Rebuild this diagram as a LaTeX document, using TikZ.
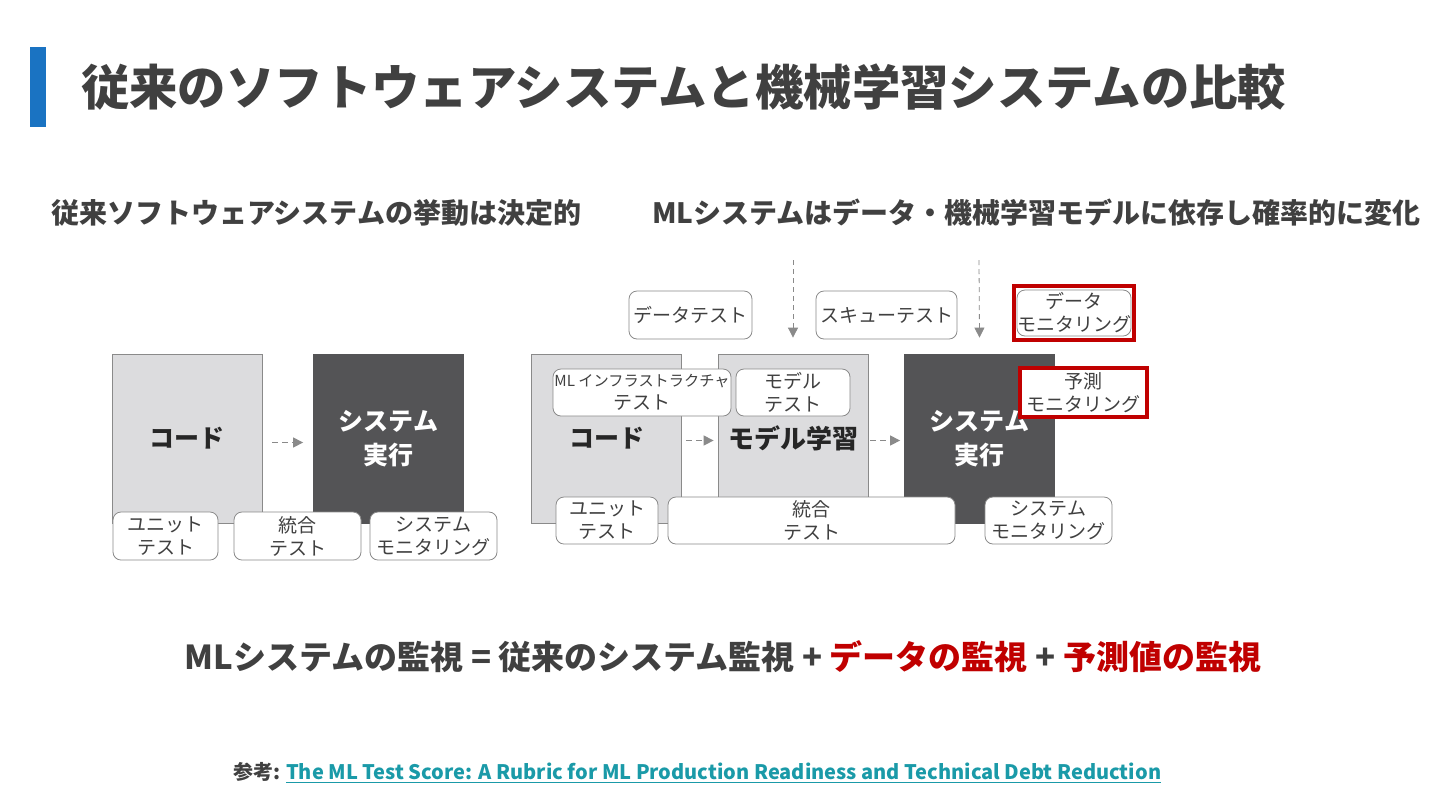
\documentclass[tikz,border=0pt]{standalone}
\usepackage{fontspec}
\setmainfont{Noto Sans CJK JP}
\usepackage{tikz}
\usetikzlibrary{arrows.meta}
\definecolor{barblue}{HTML}{1A73C2}
\definecolor{titlegray}{HTML}{404040}
\definecolor{boxgray}{HTML}{DCDCDE}
\definecolor{sysgray}{HTML}{545456}
\definecolor{edgegray}{HTML}{8A8A8A}
\definecolor{alertred}{HTML}{C00000}
\definecolor{linkteal}{HTML}{1A9AA8}
\tikzset{
  codebox/.style={draw=edgegray, fill=boxgray, text=black!85, font=\fontsize{12.5}{17}\selectfont\bfseries,
    minimum width=75pt, minimum height=84.5pt, align=center},
  sysbox/.style={codebox, draw=sysgray, fill=sysgray, text=white},
  tag/.style={draw=edgegray, fill=white, rounded corners=4pt, text=titlegray, align=center,
    inner sep=0pt, font=\fontsize{9.5}{11.5}\selectfont},
  redframe/.style={draw=alertred, line width=1.6pt, fill=white, inner sep=0pt, align=center,
    text=titlegray, font=\fontsize{9.5}{11.5}\selectfont},
  flow/.style={draw=edgegray, dashed, dash pattern=on 3pt off 2pt, line width=0.6pt,
    -{Triangle[length=5pt,width=5pt]}},
  drop/.style={draw=edgegray, dash pattern=on 2.5pt off 2pt, line width=0.4pt,
    -{Triangle[length=5pt,width=5pt]}}
}
\begin{document}
\begin{tikzpicture}[x=0.5pt, y=-0.5pt]
  \useasboundingbox[fill=white] (0,0) rectangle (1440,810);
  % Title
  \fill[barblue] (30,47) rectangle (46,127);
  \node[anchor=west, text=titlegray, font=\fontsize{24.2}{28}\selectfont\bfseries] (title) at (74,87)
    {従来のソフトウェアシステムと機械学習システムの比較};
  % Headings
  \node[anchor=west, text=titlegray, font=\fontsize{14}{16}\selectfont\bfseries] (headL) at (44,213)
    {従来ソフトウェアシステムの挙動は決定的};
  \node[anchor=west, text=titlegray, font=\fontsize{14}{16}\selectfont\bfseries] (headR) at (645,213)
    {MLシステムはデータ・機械学習モデルに依存し確率的に変化};

  % Traditional system
  \node[codebox] (codeL) at (187,438.5) {コード};
  \node[sysbox] (sysL) at (388.5,438.5) {システム\\実行};
  \draw[flow] ([shift={(10,4)}]codeL.east) -- ([shift={(-10,4)}]sysL.west);
  \node[tag, minimum width=52.5pt, minimum height=24pt] (unitL) at (165.5,536) {ユニット\\テスト};
  \node[tag, minimum width=63.5pt, minimum height=24pt] (integL) at (297.5,536) {統合\\テスト};
  \node[tag, minimum width=63.5pt, minimum height=24pt] (monL) at (433.5,536) {システム\\モニタリング};

  % ML system
  \node[codebox] (codeR) at (606.5,438.5) {コード};
  \node[codebox, font=\fontsize{13}{17}\selectfont\bfseries] (train) at (793,438.5) {モデル学習};
  \node[sysbox] (sysR) at (979.5,438.5) {システム\\実行};
  \draw[flow] ([shift={(4,2)}]codeR.east) -- ([shift={(-4,2)}]train.west);
  \draw[flow] ([shift={(2,2)}]train.east) -- ([shift={(-4,2)}]sysR.west);
  \coordinate (dropA) at (793,260);
  \coordinate (dropB) at (979,260);
  \draw[drop] (dropA) -- ([yshift=8pt]train.north);
  \draw[drop] (dropB) -- ([yshift=8pt]sysR.north);
  \node[tag, minimum width=61.5pt, minimum height=24pt] (dtest) at (690.5,315) {データテスト};
  \node[tag, minimum width=70.5pt, minimum height=24pt] (skew) at (886.5,315) {スキューテスト};
  \node[redframe, minimum width=60pt, minimum height=27pt] (dmonbox) at (1074,313) {};
  \node[tag, minimum width=56pt, minimum height=23pt] (dmon) at (1074,313) {データ\\モニタリング};
  \node[tag, minimum width=89pt, minimum height=23.5pt] (mltest) at (642,392.5)
    {{\fontsize{7.6}{11.5}\selectfont ML インフラストラクチャ}\\テスト};
  \node[tag, minimum width=57pt, minimum height=23.5pt] (mtest) at (793,392.5) {モデル\\テスト};
  \node[redframe, minimum width=63.5pt, minimum height=24.5pt] (pmon) at (1083.5,392.5) {予測\\モニタリング};
  \node[tag, minimum width=51pt, minimum height=23.5pt] (unitR) at (607,520.5) {ユニット\\テスト};
  \node[tag, minimum width=143.5pt, minimum height=23.5pt] (integR) at (811.5,520.5) {統合\\テスト};
  \node[tag, minimum width=63.5pt, minimum height=23.5pt] (monR) at (1048.5,520.5) {システム\\モニタリング};

  % Summary
  \node[text=titlegray, font=\fontsize{16.5}{18}\selectfont\bfseries] (summary) at (723,657)
    {MLシステムの監視 = 従来のシステム監視 + \textcolor{alertred}{データの監視} + \textcolor{alertred}{予測値の監視}};
  \node[anchor=west, font=\fontsize{10}{12}\selectfont\bfseries] (ref) at (226,773)
    {\textcolor{titlegray}{参考:} \textcolor{linkteal}{\underline{The ML Test Score: A Rubric for ML Production Readiness and Technical Debt Reduction}}};
\end{tikzpicture}
\end{document}
